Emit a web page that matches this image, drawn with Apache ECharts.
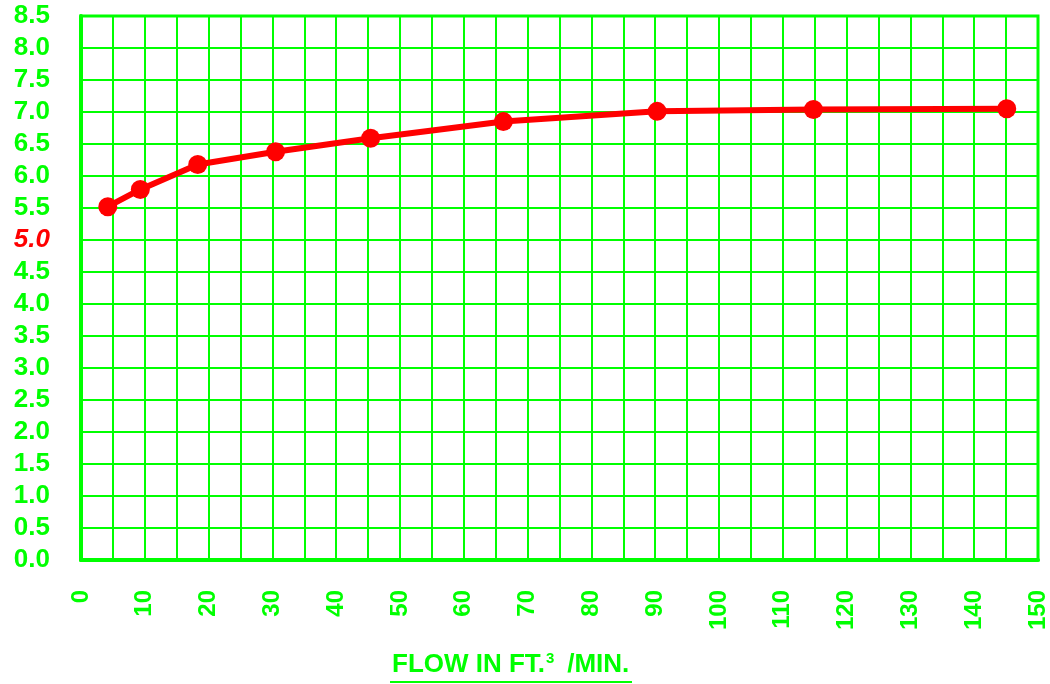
<!DOCTYPE html>
<html>
<head>
<meta charset="utf-8">
<script src="https://cdn.jsdelivr.net/npm/echarts@6/dist/echarts.min.js"></script>
<style>
html,body{margin:0;padding:0;background:#fff;}
#chart{width:1050px;height:684px;}
</style>
</head>
<body>
<div id="chart"></div>
<script>
// Data
const flow = [4.2, 9.3, 18.3, 30.5, 45.4, 66.2, 90.3, 114.8, 145.1];
const values = [5.52, 5.79, 6.18, 6.38, 6.59, 6.85, 7.01, 7.04, 7.05];
const xTicks = [0, 10, 20, 30, 40, 50, 60, 70, 80, 90, 100, 110, 120, 130, 140, 150];
const yTicks = ['0.0','0.5','1.0','1.5','2.0','2.5','3.0','3.5','4.0','4.5','5.0','5.5','6.0','6.5','7.0','7.5','8.0','8.5'];
const highlightTick = '5.0';
const titleMain = 'FLOW IN FT.';
const titleSup = '3';
const titleTail = ' /MIN.';

const GREEN = '#00ff00';
const RED = '#ff0000';
const FONT = 'Liberation Sans, Arial, sans-serif';

const chart = echarts.init(document.getElementById('chart'), null, {renderer: 'canvas'});

const points = flow.map((x, i) => [x, values[i]]);

chart.setOption({
  animation: false,
  backgroundColor: '#ffffff',
  grid: {
    left: 81, right: 9, top: 16, bottom: 124,
    show: true, borderColor: GREEN, borderWidth: 3, backgroundColor: 'transparent'
  },
  xAxis: {
    type: 'value',
    min: 0, max: 150, interval: 5,
    axisLine: {show: true, onZero: false, lineStyle: {color: GREEN, width: 4}},
    axisTick: {show: false},
    splitLine: {show: true, lineStyle: {color: GREEN, width: 2}},
    axisLabel: {
      rotate: 90, margin: 30, color: GREEN, fontWeight: 'bold', fontSize: 24, fontFamily: FONT,
      showMinLabel: true, showMaxLabel: true,
      formatter: function (v) { return xTicks.indexOf(v) >= 0 ? String(v) : ''; }
    }
  },
  yAxis: {
    type: 'value',
    min: 0, max: 8.5, interval: 0.5,
    axisLine: {show: true, onZero: false, lineStyle: {color: GREEN, width: 4}},
    axisTick: {show: false},
    splitLine: {show: true, lineStyle: {color: GREEN, width: 2}},
    axisLabel: {
      margin: 31, fontFamily: FONT,
      formatter: function (v) {
        const s = yTicks[Math.round(v / 0.5)];
        return s === highlightTick ? '{r|' + s + '}' : '{g|' + s + '}';
      },
      rich: {
        g: {color: GREEN, fontWeight: 'bold', fontSize: 26, fontFamily: FONT},
        r: {color: RED, fontWeight: 'bold', fontStyle: 'italic', fontSize: 26, fontFamily: FONT}
      }
    }
  },
  series: [{
    type: 'line',
    data: points,
    smooth: false,
    symbol: 'circle',
    symbolSize: 19,
    itemStyle: {color: RED},
    lineStyle: {color: RED, width: 6},
    z: 5
  }],
  graphic: [
    {type: 'text', left: 392, top: 652, style: {text: titleMain, fill: GREEN, font: 'bold 26px ' + FONT}},
    {type: 'text', left: 546, top: 651, style: {text: titleSup, fill: GREEN, font: 'bold 15px ' + FONT}},
    {type: 'text', left: 560, top: 652, style: {text: titleTail, fill: GREEN, font: 'bold 26px ' + FONT}},
    {type: 'line', shape: {x1: 390, y1: 682, x2: 632, y2: 682}, style: {stroke: GREEN, lineWidth: 2}}
  ]
});
</script>
</body>
</html>
